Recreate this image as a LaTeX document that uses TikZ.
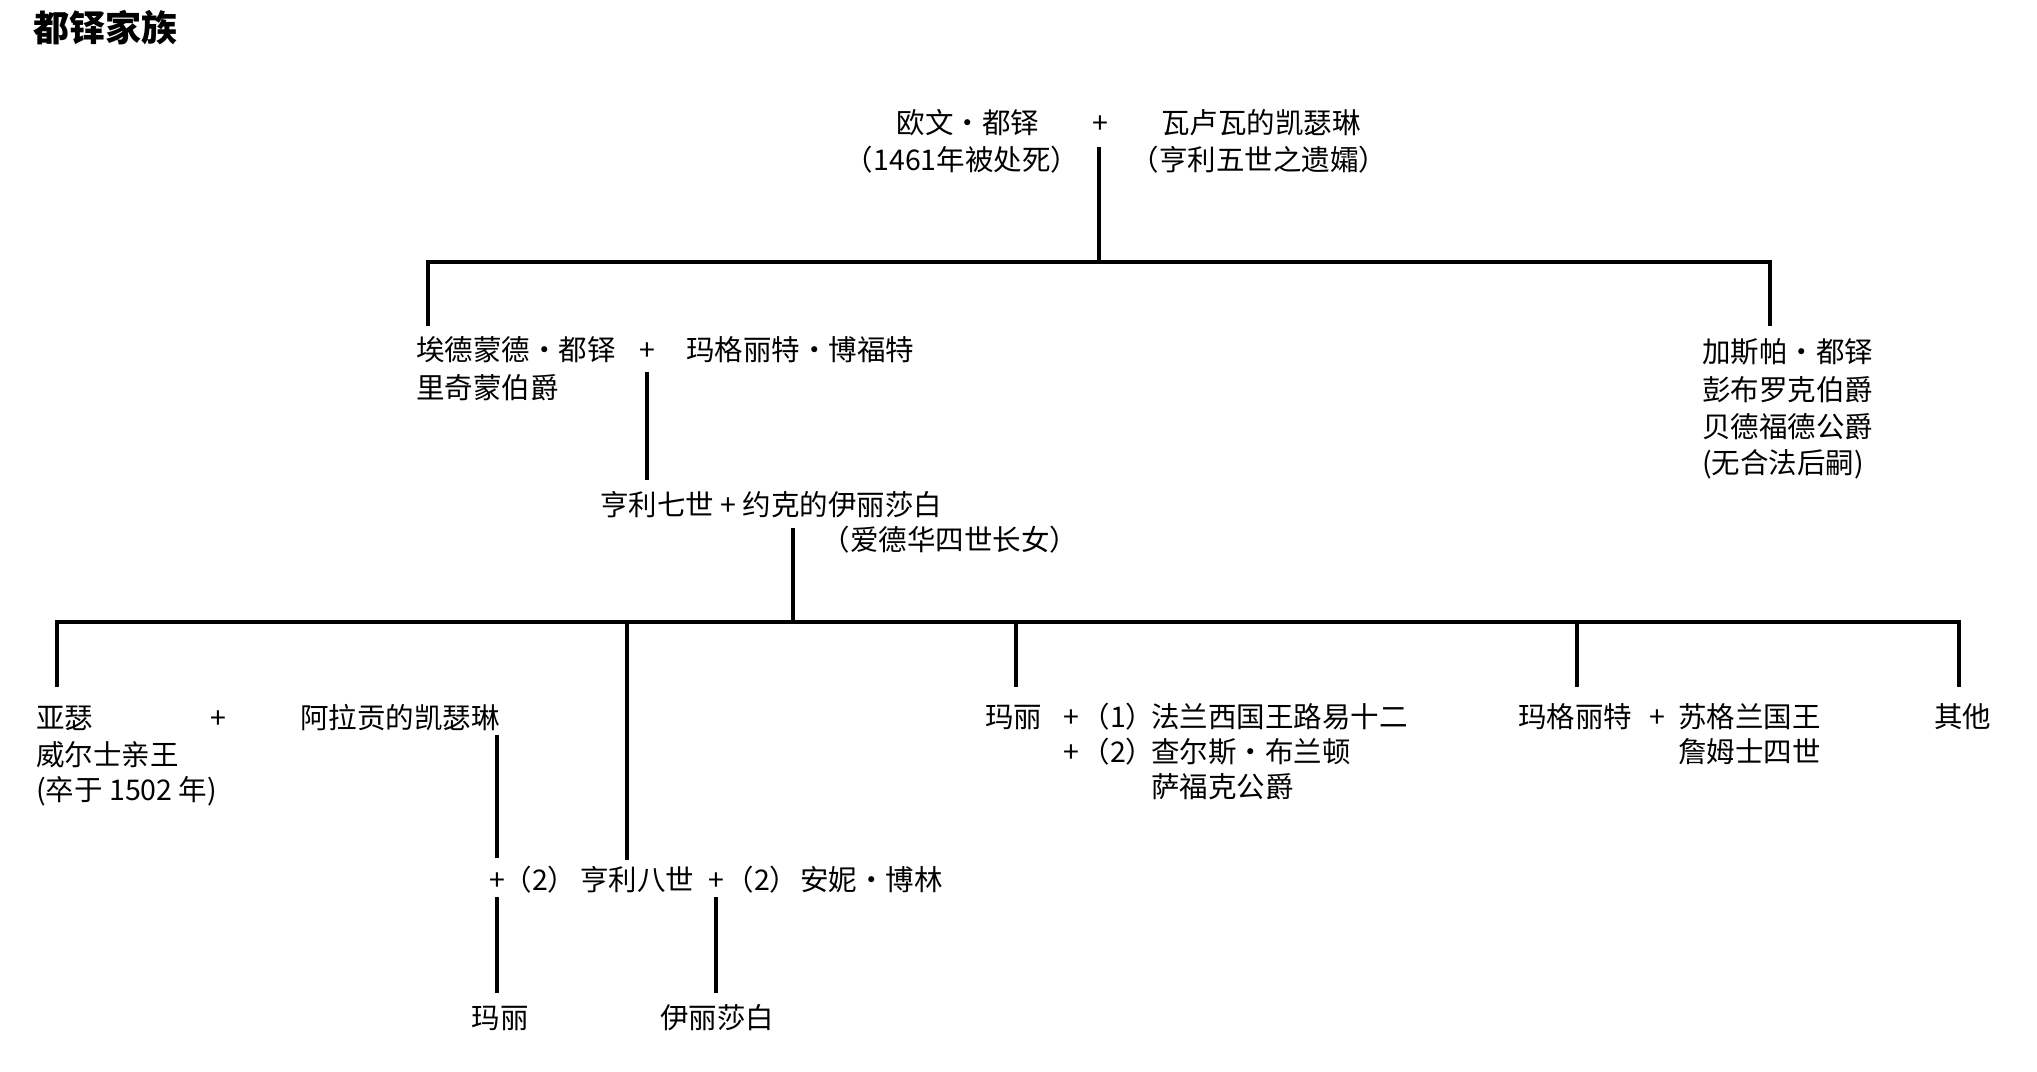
\documentclass[tikz,border=0pt]{standalone}
\usepackage{fontspec}
\setmainfont{Noto Sans CJK SC}
\begin{document}
\begin{tikzpicture}[x=1pt,y=-1pt,
  lbl/.style={font=\fontsize{28.5}{34}\selectfont, inner sep=0pt, text height=25pt, text depth=3.5pt},
  lblw/.style={lbl, anchor=west},
  ln/.style={line width=3.2pt, line cap=butt, line join=miter}]
\useasboundingbox (0,0) rectangle (2037,1071);
% title
\node[anchor=west, inner sep=0pt, font=\fontsize{36}{40}\selectfont\bfseries, text height=32pt, text depth=4pt] (title) at (33,27) {都铎家族};
% generation 1
\node[lbl] (owen) at (968,123) {欧文·都铎};
\node[lbl] (plusA) at (1100,123) {+};
\node[lbl] (cathv) at (1261,123) {瓦卢瓦的凯瑟琳};
\node[lbl] (owenN) at (962,160) {（1461年被处死）};
\node[lbl] (cathvN) at (1259,160) {（亨利五世之遗孀）};
% generation 2
\node[lblw] (edmund) at (416,350) {埃德蒙德·都铎};
\node[lbl] (plusB) at (647,350) {+};
\node[lblw] (margB) at (686,350) {玛格丽特·博福特};
\node[lblw] (edmund2) at (416,388) {里奇蒙伯爵};
\node[lblw] (jasper) at (1702,352) {加斯帕·都铎};
\node[lblw] (jasper2) at (1702,390) {彭布罗克伯爵};
\node[lblw] (jasper3) at (1702,427) {贝德福德公爵};
\node[lblw] (jasper4) at (1702,463) {(无合法后嗣)};
% generation 3
\node[lblw] (henry7) at (600,505) {亨利七世 + 约克的伊丽莎白};
\node[lbl] (elizN) at (950,540) {（爱德华四世长女）};
% generation 4
\node[lblw] (arthur) at (36,718) {亚瑟};
\node[lbl] (plusC) at (218,718) {+};
\node[lblw] (catha) at (300,718) {阿拉贡的凯瑟琳};
\node[lblw] (arthur2) at (36,755) {威尔士亲王};
\node[lblw] (arthur3) at (36,790) {(卒于 1502 年)};
\node[lbl] (plusD) at (497,880) {+};
\node[lbl] (twoA) at (540,880) {（2）};
\node[lblw] (henry8) at (580,880) {亨利八世};
\node[lbl] (plusE) at (716,880) {+};
\node[lbl] (twoB) at (762,880) {（2）};
\node[lblw] (anne) at (800,880) {安妮·博林};
\node[lbl] (maryB) at (500,1018) {玛丽};
\node[lbl] (elizB) at (717,1018) {伊丽莎白};
\node[lblw] (mary) at (985,717) {玛丽};
\node[lbl] (plusF) at (1071,717) {+};
\node[lbl] (oneA) at (1118,717) {（1）};
\node[lblw] (louis) at (1151,717) {法兰西国王路易十二};
\node[lbl] (plusG) at (1071,752) {+};
\node[lbl] (twoC) at (1118,752) {（2）};
\node[lblw] (charles) at (1151,752) {查尔斯·布兰顿};
\node[lblw] (charles2) at (1151,787) {萨福克公爵};
\node[lblw] (marg) at (1518,717) {玛格丽特};
\node[lbl] (plusH) at (1657,717) {+};
\node[lblw] (scot) at (1678,717) {苏格兰国王};
\node[lblw] (scot2) at (1678,752) {詹姆士四世};
\node[lblw] (other) at (1934,717) {其他};
% connectors
\coordinate (barL) at (428,262);
\coordinate (barR) at (1770,262);
\coordinate (dropL) at (428,326);
\coordinate (dropR) at (1770,326);
\draw[ln] (plusA.center) ++(-1,24) -- (1099,262);
\draw[ln] (dropL) -- (barL) -- (barR) -- (dropR);
\draw[ln] (plusB.center) ++(0,22) -- ++(0,108);
\coordinate (elizDrop) at (793,528);
\coordinate (b1) at (57,622);
\coordinate (b5) at (1959,622);
\draw[ln] (elizDrop) -- (793,622);
\draw[ln] (57,687) -- (b1) -- (b5) -- (1959,687);
\draw[ln] (1016,622) -- (1016,687);
\draw[ln] (1577,622) -- (1577,687);
\draw[ln] (627,622) -- (627,860);
\draw[ln] (497,735) -- (497,858);
\draw[ln] (plusD.center) ++(0,17) -- ++(0,96);
\draw[ln] (plusE.center) ++(0,17) -- ++(0,96);
\end{tikzpicture}
\end{document}
